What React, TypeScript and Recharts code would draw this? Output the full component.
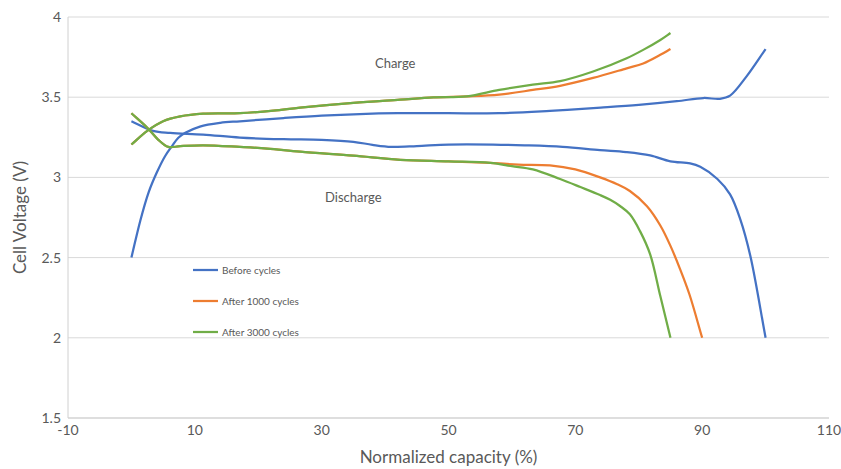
import { LineChart, Line, XAxis, YAxis, CartesianGrid, Legend, ReferenceDot, Label } from "recharts";

const FONT = "Lato, 'Open Sans', sans-serif";
const TEXT = "#595959";

const xTicks = [-10, 10, 30, 50, 70, 90, 110];
const yTicks = [1.5, 2, 2.5, 3, 3.5, 4];

const seriesNames = ["Before cycles", "After 1000 cycles", "After 3000 cycles"];
const seriesColors = ["#4472C4", "#ED7D31", "#70AD47"];

// before cycles
const beforeChargeCap = [0, 1.4, 2.7, 4, 5.3, 6.4, 7.4, 8.5, 10.8, 14, 17.1, 24, 30, 36, 42, 50, 58, 66, 74, 80, 86, 90.2, 92.8, 94.4, 97, 100];
const beforeChargeV = [2.5, 2.73, 2.905, 3.03, 3.132, 3.195, 3.247, 3.278, 3.317, 3.34, 3.35, 3.37, 3.385, 3.395, 3.4, 3.4, 3.4, 3.415, 3.435, 3.452, 3.475, 3.495, 3.49, 3.51, 3.63, 3.8];
const beforeDischargeCap = [0, 3.4, 6.1, 11.3, 17.1, 24, 30, 35, 38, 41, 45, 50, 57, 62, 68, 73.9, 78, 81.8, 85, 88.1, 89.7, 92.4, 94.4, 96, 97.6, 100];
const beforeDischargeV = [3.35, 3.29, 3.277, 3.267, 3.248, 3.238, 3.234, 3.222, 3.203, 3.19, 3.195, 3.205, 3.205, 3.2, 3.19, 3.17, 3.158, 3.137, 3.1, 3.087, 3.066, 2.99, 2.894, 2.74, 2.51, 2];

// after 1000 cycles
const k1ChargeCap = [0, 2.5, 5, 7.7, 11.3, 17.1, 22.4, 26.6, 35, 42.4, 47.6, 52.9, 58, 63.3, 67.6, 72.8, 78.1, 80.7, 83.4, 85];
const k1ChargeV = [3.205, 3.29, 3.35, 3.38, 3.397, 3.4, 3.416, 3.435, 3.465, 3.485, 3.499, 3.505, 3.516, 3.545, 3.571, 3.62, 3.68, 3.71, 3.764, 3.8];
const k1DischargeCap = [0, 2.5, 4.2, 5.8, 7.7, 11.3, 17.1, 21.4, 26.6, 35, 42.4, 50, 56.6, 61, 66, 70, 73.9, 76.6, 78.6, 81.3, 83.4, 85, 86.5, 88, 90];
const k1DischargeV = [3.4, 3.31, 3.236, 3.19, 3.195, 3.2, 3.19, 3.18, 3.16, 3.135, 3.11, 3.1, 3.09, 3.08, 3.075, 3.05, 3.0, 2.957, 2.915, 2.82, 2.7, 2.573, 2.43, 2.27, 2];

// after 3000 cycles
const k3ChargeCap = [0, 2.5, 5, 7.7, 11.3, 17.1, 22.4, 26.6, 35, 42.4, 47.6, 52.9, 58, 63.3, 67.6, 72.8, 78.1, 80.7, 83.4, 85];
const k3ChargeV = [3.205, 3.29, 3.35, 3.38, 3.397, 3.4, 3.416, 3.435, 3.465, 3.485, 3.499, 3.505, 3.545, 3.578, 3.6, 3.66, 3.743, 3.795, 3.857, 3.9];
const k3DischargeCap = [0, 2.5, 4.2, 5.8, 7.7, 11.3, 17.1, 21.4, 26.6, 35, 42.4, 50, 56.6, 60, 63.3, 67.6, 70.8, 73.9, 75.5, 77.1, 78.6, 80.2, 81.8, 83.4, 85];
const k3DischargeV = [3.4, 3.31, 3.236, 3.19, 3.195, 3.2, 3.19, 3.18, 3.16, 3.135, 3.11, 3.1, 3.09, 3.07, 3.05, 2.99, 2.94, 2.89, 2.86, 2.82, 2.77, 2.665, 2.52, 2.26, 2];

const toPoints = (caps: number[], volts: number[]) => caps.map((x, i) => ({ x, v: volts[i] }));

const curves = [
  { key: "bc", data: toPoints(beforeChargeCap, beforeChargeV), color: seriesColors[0] },
  { key: "bd", data: toPoints(beforeDischargeCap, beforeDischargeV), color: seriesColors[0] },
  { key: "k1c", data: toPoints(k1ChargeCap, k1ChargeV), color: seriesColors[1] },
  { key: "k1d", data: toPoints(k1DischargeCap, k1DischargeV), color: seriesColors[1] },
  { key: "k3c", data: toPoints(k3ChargeCap, k3ChargeV), color: seriesColors[2] },
  { key: "k3d", data: toPoints(k3DischargeCap, k3DischargeV), color: seriesColors[2] },
];

// smoothed line like Excel's, centripetal Catmull-Rom through every point
const smoothCurve = (context: any) => {
  let pts: [number, number][] = [];
  const dist = (a: [number, number], b: [number, number]) => Math.hypot(a[0] - b[0], a[1] - b[1]);
  return {
    areaStart() {},
    areaEnd() {},
    lineStart() {
      pts = [];
    },
    lineEnd() {
      if (!pts.length) return;
      context.moveTo(pts[0][0], pts[0][1]);
      for (let i = 0; i < pts.length - 1; i++) {
        const p0 = pts[i - 1] || pts[i];
        const p1 = pts[i];
        const p2 = pts[i + 1];
        const p3 = pts[i + 2] || p2;
        const d01 = dist(p0, p1);
        const d12 = dist(p1, p2);
        const d23 = dist(p2, p3);
        const l01 = Math.sqrt(d01);
        const l12 = Math.sqrt(d12);
        const l23 = Math.sqrt(d23);
        let c1: [number, number];
        let c2: [number, number];
        if (l01 > 1e-6) {
          const a = 2 * d01 + 3 * l01 * l12 + d12;
          const n = 3 * l01 * (l01 + l12);
          c1 = [(p1[0] * a - p0[0] * d12 + p2[0] * d01) / n, (p1[1] * a - p0[1] * d12 + p2[1] * d01) / n];
        } else {
          c1 = [p1[0] + (p2[0] - p1[0]) / 3, p1[1] + (p2[1] - p1[1]) / 3];
        }
        if (l23 > 1e-6) {
          const b = 2 * d23 + 3 * l23 * l12 + d12;
          const m = 3 * l23 * (l23 + l12);
          c2 = [(p2[0] * b + p1[0] * d23 - p3[0] * d12) / m, (p2[1] * b + p1[1] * d23 - p3[1] * d12) / m];
        } else {
          c2 = [p2[0] - (p2[0] - p1[0]) / 3, p2[1] - (p2[1] - p1[1]) / 3];
        }
        context.bezierCurveTo(c1[0], c1[1], c2[0], c2[1], p2[0], p2[1]);
      }
    },
    point(x: number, y: number) {
      pts.push([+x, +y]);
    },
  };
};

const renderLegend = () => (
  <div style={{ fontFamily: FONT, fontSize: 10, color: TEXT }}>
    {seriesNames.map((name, i) => (
      <div key={name} style={{ display: "flex", alignItems: "center", height: 31 }}>
        <svg width={25} height={4} style={{ display: "block" }}>
          <line x1={0} y1={2} x2={25} y2={2} stroke={seriesColors[i]} strokeWidth={2.25} />
        </svg>
        <span style={{ marginLeft: 4, whiteSpace: "nowrap" }}>{name}</span>
      </div>
    ))}
  </div>
);

export default function App() {
  const tickStyle = { fill: TEXT, fontSize: 14, fontFamily: FONT };
  return (
    <div style={{ position: "absolute", left: 0, top: 0, background: "#fff" }}>
      <LineChart width={841} height={469} margin={{ top: 17, right: 12, bottom: 21, left: 18 }}>
        <CartesianGrid vertical={false} stroke="#d9d9d9" />
        <XAxis
          dataKey="x"
          type="number"
          domain={[-10, 110]}
          ticks={xTicks}
          allowDataOverflow
          stroke="#d0d0d0"
          tickLine={false}
          tickSize={0}
          tickMargin={7}
          height={30}
          tick={tickStyle}
        >
          <Label value="Normalized capacity (%)" position="bottom" offset={3} style={{ fill: TEXT, fontSize: 17, fontFamily: FONT }} />
        </XAxis>
        <YAxis
          type="number"
          domain={[1.5, 4]}
          ticks={yTicks}
          allowDataOverflow
          stroke="#d0d0d0"
          tickLine={false}
          tickSize={0}
          tickMargin={7}
          width={50}
          tick={tickStyle}
        >
          <Label
            value="Cell Voltage (V)"
            angle={-90}
            position="insideLeft"
            offset={2}
            style={{ fill: TEXT, fontSize: 17, fontFamily: FONT, textAnchor: "middle" }}
          />
        </YAxis>
        <Legend
          content={renderLegend}
          layout="horizontal"
          align="center"
          verticalAlign="middle"
          wrapperStyle={{ left: 193, top: 254, width: "auto", height: "auto" }}
        />
        {curves.map((c) => (
          <Line
            key={c.key}
            data={c.data}
            dataKey="v"
            type={smoothCurve as any}
            stroke={c.color}
            strokeWidth={2.25}
            dot={false}
            activeDot={false}
            isAnimationActive={false}
          />
        ))}
        <ReferenceDot x={41.6} y={3.708} r={0} stroke="none" fill="none">
          <Label value="Charge" position="center" style={{ fill: TEXT, fontSize: 13, fontFamily: FONT }} />
        </ReferenceDot>
        <ReferenceDot x={35} y={2.876} r={0} stroke="none" fill="none">
          <Label value="Discharge" position="center" style={{ fill: TEXT, fontSize: 13, fontFamily: FONT }} />
        </ReferenceDot>
      </LineChart>
    </div>
  );
}
